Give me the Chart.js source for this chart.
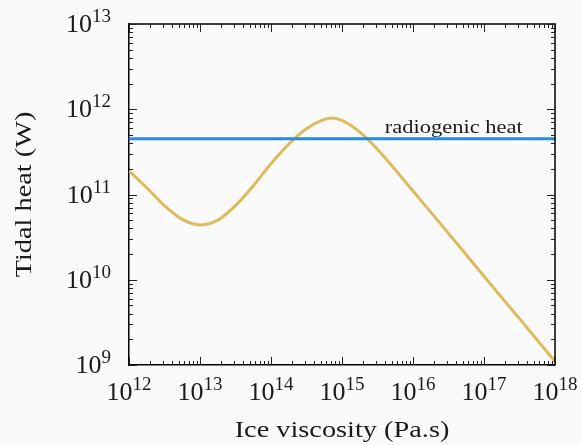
<!DOCTYPE html>
<html>
<head>
<meta charset="utf-8">
<script src="https://cdn.jsdelivr.net/npm/chart.js@4.4.1/dist/chart.umd.min.js"></script>
<style>
  html, body { margin: 0; padding: 0; background: #fafafa; }
  canvas { display: block; }
</style>
</head>
<body>
<canvas id="tidalChart" width="581" height="445"></canvas>
<script>
// Data
const viscosity = [1e12, 1.78e12, 3.16e12, 5.62e12, 1e13, 1.78e13, 3.16e13, 5.62e13, 1e14, 1.78e14, 3.16e14, 5.62e14, 7.1e14,
    1e15, 1.78e15, 3.16e15, 5.62e15, 1e16, 3.16e16, 1e17, 3.16e17, 1e18];
const tidalHeat = [1.9e11, 1.2e11, 7.4e10, 5.1e10, 4.4e10, 5.0e10, 7.4e10, 1.26e11, 2.3e11, 3.9e11, 5.9e11, 7.6e11, 7.9e11,
    7.4e11, 5.4e11, 3.4e11, 1.95e11, 1.1e11, 3.5e10, 1.1e10, 3.5e9, 1.1e9];
const radiogenicHeat = 4.5e11;
const radiogenicLabel = 'radiogenic heat';
const xTicks = [1e12, 1e13, 1e14, 1e15, 1e16, 1e17, 1e18];
const yTicks = [1e9, 1e10, 1e11, 1e12, 1e13];

const serif = '"Liberation Serif", "DejaVu Serif", serif';
const ink = '#1a1a1a';

// text stretched sideways, so Liberation Serif gets closer to the wide LaTeX look
function wideText(ctx, text, x, y, sx, align) {
    ctx.save();
    ctx.translate(x, y);
    ctx.scale(sx, 1);
    ctx.textAlign = align;
    ctx.fillText(text, 0, 0);
    ctx.restore();
}

// draws the frame, inward ticks, superscript labels and axis titles
const framePlugin = {
    id: 'frame',
    afterDatasetsDraw(chart) {
        const ctx = chart.ctx;
        const area = chart.chartArea;
        const xs = chart.scales.x;
        const ys = chart.scales.y;
        ctx.save();

        // top and right edges
        ctx.strokeStyle = '#000';
        ctx.lineWidth = 1.5;
        ctx.beginPath();
        ctx.moveTo(area.left, area.top);
        ctx.lineTo(area.right, area.top);
        ctx.lineTo(area.right, area.bottom);
        ctx.stroke();

        // inward ticks on all four sides
        ctx.lineWidth = 1;
        ctx.strokeStyle = '#222';
        const drawX = (v, len) => {
            const p = Math.round(xs.getPixelForValue(v)) + 0.5;
            ctx.beginPath();
            ctx.moveTo(p, area.bottom); ctx.lineTo(p, area.bottom - len);
            ctx.moveTo(p, area.top); ctx.lineTo(p, area.top + len);
            ctx.stroke();
        };
        const drawY = (v, len) => {
            const p = Math.round(ys.getPixelForValue(v)) + 0.5;
            ctx.beginPath();
            ctx.moveTo(area.left, p); ctx.lineTo(area.left + len, p);
            ctx.moveTo(area.right, p); ctx.lineTo(area.right - len, p);
            ctx.stroke();
        };
        xTicks.forEach((t, i) => {
            drawX(t, 8);
            if (i < xTicks.length - 1) for (let m = 2; m <= 9; m++) drawX(t * m, 4);
        });
        yTicks.forEach((t, i) => {
            drawY(t, 8);
            if (i < yTicks.length - 1) for (let m = 2; m <= 9; m++) drawY(t * m, 4);
        });

        // tick labels: 10 with superscript exponent
        const baseFont = '26px ' + serif;
        const expFont = '19px ' + serif;
        ctx.fillStyle = ink;
        ctx.textAlign = 'left';
        ctx.textBaseline = 'alphabetic';
        const power = (label, x, y, anchor) => {
            const exp = String(Math.round(Math.log10(label)));
            ctx.font = baseFont;
            const w1 = ctx.measureText('10').width;
            ctx.font = expFont;
            const w2 = ctx.measureText(exp).width;
            const left = anchor === 'center' ? x - (w1 + w2) / 2 : x - (w1 + w2);
            ctx.font = baseFont;
            ctx.fillText('10', left, y);
            ctx.font = expFont;
            ctx.fillText(exp, left + w1, y - 10);
        };
        xTicks.forEach(t => power(t, xs.getPixelForValue(t), area.bottom + 35, 'center'));
        yTicks.forEach(t => power(t, area.left - 18, ys.getPixelForValue(t) + 8, 'right'));

        // axis titles
        ctx.font = '24px ' + serif;
        wideText(ctx, 'Ice viscosity (Pa.s)', (area.left + area.right) / 2, 437, 1.18, 'center');
        ctx.save();
        ctx.translate(31, (area.top + area.bottom) / 2);
        ctx.rotate(-Math.PI / 2);
        wideText(ctx, 'Tidal heat (W)', 0, 0, 1.18, 'center');
        ctx.restore();

        // annotation above the radiogenic line
        ctx.font = '18px ' + serif;
        wideText(ctx, radiogenicLabel, xs.getPixelForValue(4e15), ys.getPixelForValue(radiogenicHeat) - 6, 1.25, 'left');

        ctx.restore();
    }
};

const ctx = document.getElementById('tidalChart').getContext('2d');
const tidalChart = new Chart(ctx, {
    type: 'line',
    data: {
        datasets: [{
            label: radiogenicLabel,
            data: [{ x: xTicks[0], y: radiogenicHeat }, { x: xTicks[xTicks.length - 1], y: radiogenicHeat }],
            borderColor: 'rgb(38, 139, 226)',
            borderWidth: 3,
            pointRadius: 0
        }, {
            label: 'Tidal heat',
            data: viscosity.map((v, i) => ({ x: v, y: tidalHeat[i] })),
            borderColor: 'rgb(222, 186, 92)',
            borderWidth: 3,
            pointRadius: 0,
            cubicInterpolationMode: 'monotone'
        }]
    },
    options: {
        responsive: false,
        animation: false,
        devicePixelRatio: 1,
        layout: {
            padding: { left: 129, right: 26, top: 24, bottom: 80 }
        },
        scales: {
            x: {
                type: 'logarithmic',
                min: 1e12,
                max: 1e18,
                ticks: { display: false },
                grid: { display: false, drawTicks: false },
                border: { color: '#000', width: 1.5 }
            },
            y: {
                type: 'logarithmic',
                min: 1e9,
                max: 1e13,
                ticks: { display: false },
                grid: { display: false, drawTicks: false },
                border: { color: '#000', width: 1.5 }
            }
        },
        plugins: {
            legend: { display: false },
            tooltip: { enabled: false }
        }
    },
    plugins: [framePlugin]
});
</script>
</body>
</html>
